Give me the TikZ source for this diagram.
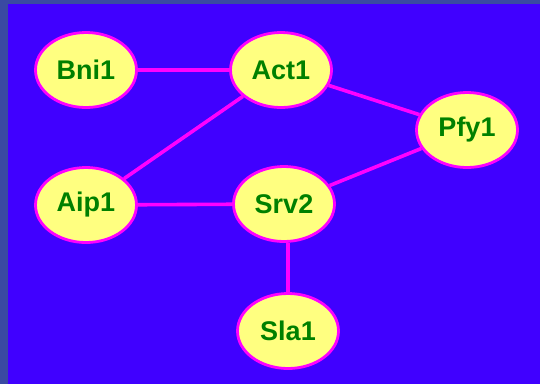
\documentclass[tikz,border=0pt]{standalone}
\usepackage{fontspec}
\setmainfont{Liberation Sans}
\usetikzlibrary{shapes.geometric}
\definecolor{frameblue}{HTML}{3A4AA2}
\definecolor{panelblue}{HTML}{4000FF}
\definecolor{nodefill}{HTML}{FFFF80}
\definecolor{nodetext}{HTML}{008000}
\definecolor{edgepink}{HTML}{FF00FF}
\begin{document}
\begin{tikzpicture}[x=1pt,y=-1pt,
  protein/.style={ellipse, draw=edgepink, line width=2.8pt, fill=nodefill,
    minimum width=101pt, minimum height=75pt, inner sep=0pt,
    text=nodetext, font=\bfseries\fontsize{27}{30}\selectfont},
  link/.style={draw=edgepink, line width=3.6pt}]
  % frame and panel
  \fill[frameblue] (0,0) rectangle (540,384);
  \fill[panelblue] (8,4) rectangle (540,384);
  \useasboundingbox (0,0) rectangle (540,384);
  % proteins
  \node[protein] (bni) at (86,70) {Bni1};
  \node[protein] (act) at (281,70) {Act1};
  \node[protein] (pfy) at (467,130) {Pfy1};
  \node[protein] (aip) at (86,205) {Aip1};
  \node[protein] (srv) at (284,204) {Srv2};
  \node[protein] (sla) at (288,331) {Sla1};
  % interactions
  \path[link] (bni) -- (act);
  \path[link] (act) -- (pfy);
  \path[link] (act) -- (aip);
  \path[link] (aip) -- (srv);
  \path[link] (srv) -- (pfy);
  \path[link] (srv.south -| sla.north) -- (sla);
\end{tikzpicture}
\end{document}
